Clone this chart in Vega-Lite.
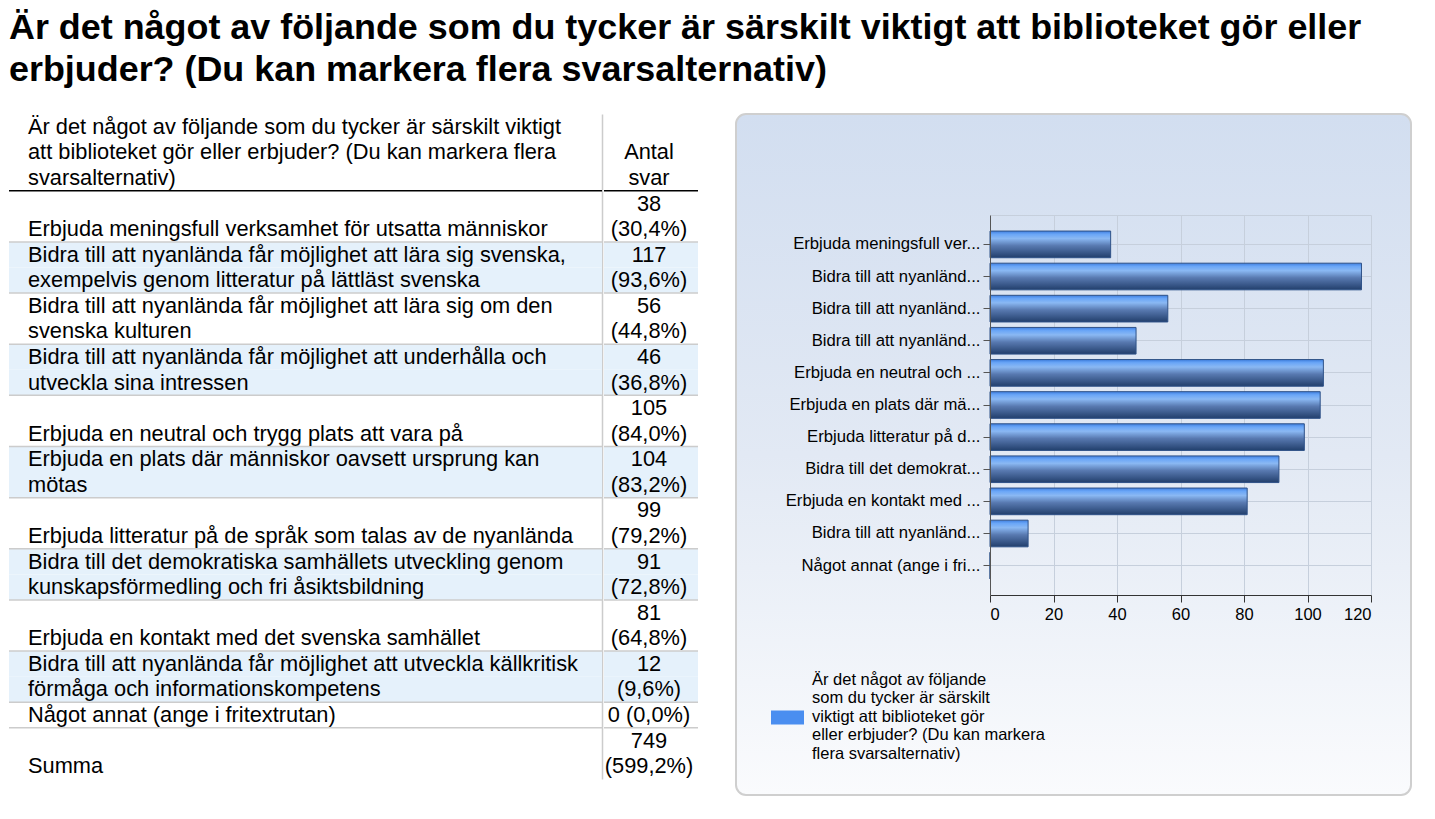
{
  "$schema": "https://vega.github.io/schema/vega-lite/v6.json",
  "padding": {"left": 8, "top": 10, "right": 0, "bottom": 0},
  "background": "white",
  "config": {"font": "Liberation Sans", "view": {"stroke": null}},
  "title": {
    "text": ["Är det något av följande som du tycker är särskilt viktigt att biblioteket gör eller", "erbjuder? (Du kan markera flera svarsalternativ)"],
    "anchor": "start", "frame": "group", "fontSize": 35.9, "fontWeight": "bold", "font": "Liberation Sans",
    "color": "#000000", "lineHeight": 42, "offset": 24
  },
  "datasets": {
    "table": [
      {"row": 0, "line": 1, "q": "Är det något av följande som du tycker är särskilt viktigt", "n": ""},
      {"row": 0, "line": 2, "q": "att biblioteket gör eller erbjuder? (Du kan markera flera", "n": "Antal"},
      {"row": 0, "line": 3, "q": "svarsalternativ)", "n": "svar"},
      {"row": 1, "line": 4, "q": "", "n": "38"},
      {"row": 1, "line": 5, "q": "Erbjuda meningsfull verksamhet för utsatta människor", "n": "(30,4%)"},
      {"row": 2, "line": 6, "q": "Bidra till att nyanlända får möjlighet att lära sig svenska,", "n": "117"},
      {"row": 2, "line": 7, "q": "exempelvis genom litteratur på lättläst svenska", "n": "(93,6%)"},
      {"row": 3, "line": 8, "q": "Bidra till att nyanlända får möjlighet att lära sig om den", "n": "56"},
      {"row": 3, "line": 9, "q": "svenska kulturen", "n": "(44,8%)"},
      {"row": 4, "line": 10, "q": "Bidra till att nyanlända får möjlighet att underhålla och", "n": "46"},
      {"row": 4, "line": 11, "q": "utveckla sina intressen", "n": "(36,8%)"},
      {"row": 5, "line": 12, "q": "", "n": "105"},
      {"row": 5, "line": 13, "q": "Erbjuda en neutral och trygg plats att vara på", "n": "(84,0%)"},
      {"row": 6, "line": 14, "q": "Erbjuda en plats där människor oavsett ursprung kan", "n": "104"},
      {"row": 6, "line": 15, "q": "mötas", "n": "(83,2%)"},
      {"row": 7, "line": 16, "q": "", "n": "99"},
      {"row": 7, "line": 17, "q": "Erbjuda litteratur på de språk som talas av de nyanlända", "n": "(79,2%)"},
      {"row": 8, "line": 18, "q": "Bidra till det demokratiska samhällets utveckling genom", "n": "91"},
      {"row": 8, "line": 19, "q": "kunskapsförmedling och fri åsiktsbildning", "n": "(72,8%)"},
      {"row": 9, "line": 20, "q": "", "n": "81"},
      {"row": 9, "line": 21, "q": "Erbjuda en kontakt med det svenska samhället", "n": "(64,8%)"},
      {"row": 10, "line": 22, "q": "Bidra till att nyanlända får möjlighet att utveckla källkritisk", "n": "12"},
      {"row": 10, "line": 23, "q": "förmåga och informationskompetens", "n": "(9,6%)"},
      {"row": 11, "line": 24, "q": "Något annat (ange i fritextrutan)", "n": "0 (0,0%)"},
      {"row": 12, "line": 25, "q": "", "n": "749"},
      {"row": 12, "line": 26, "q": "Summa", "n": "(599,2%)"}
    ],
    "bars": [
      {"item": "Erbjuda meningsfull verksamhet för utsatta människor", "count": 38},
      {"item": "Bidra till att nyanlända får möjlighet att lära sig svenska, exempelvis genom litteratur på lättläst svenska", "count": 117},
      {"item": "Bidra till att nyanlända får möjlighet att lära sig om den svenska kulturen", "count": 56},
      {"item": "Bidra till att nyanlända får möjlighet att underhålla och utveckla sina intressen", "count": 46},
      {"item": "Erbjuda en neutral och trygg plats att vara på", "count": 105},
      {"item": "Erbjuda en plats där människor oavsett ursprung kan mötas", "count": 104},
      {"item": "Erbjuda litteratur på de språk som talas av de nyanlända", "count": 99},
      {"item": "Bidra till det demokratiska samhällets utveckling genom kunskapsförmedling och fri åsiktsbildning", "count": 91},
      {"item": "Erbjuda en kontakt med det svenska samhället", "count": 81},
      {"item": "Bidra till att nyanlända får möjlighet att utveckla källkritisk förmåga och informationskompetens", "count": 12},
      {"item": "Något annat (ange i fritextrutan)", "count": 0}
    ]
  },
  "spacing": 36,
  "hconcat": [
    {
      "spacing": 0,
      "hconcat": [
        {
          "width": 593, "height": 665,
          "data": {"name": "table"},
          "encoding": {"y": {"field": "line", "type": "ordinal", "scale": {"type": "band", "paddingInner": 0, "paddingOuter": 0},
            "axis": {"orient": "right", "domain": true, "domainColor": "#cccccc", "domainWidth": 1.5, "labels": false, "ticks": false, "grid": false, "title": null, "zindex": 0}}},
          "layer": [
            {"transform": [{"filter": "datum.row > 0 && datum.row < 11 && datum.row % 2 == 0"}], "mark": {"type": "rect", "fill": "#e5f1fb"}},
            {"transform": [{"joinaggregate": [{"op": "max", "field": "line", "as": "last"}], "groupby": ["row"]}, {"filter": "datum.line == datum.last && datum.row > 0 && datum.row < 12"}],
             "mark": {"type": "rule", "color": "#cccccc", "strokeWidth": 1.5},
             "encoding": {"y": {"field": "line", "type": "ordinal", "bandPosition": 1}}},
            {"transform": [{"filter": "datum.line == 3"}],
             "mark": {"type": "rule", "color": "#000000", "strokeWidth": 1.5},
             "encoding": {"y": {"field": "line", "type": "ordinal", "bandPosition": 1}}},
            {"mark": {"type": "text", "align": "left", "baseline": "middle", "dx": 19, "fontSize": 21.8, "color": "#000000"},
             "encoding": {"x": {"datum": 0, "type": "quantitative", "scale": {"domain": [0, 1]}, "axis": null}, "text": {"field": "q"}}}
          ]
        },
        {
          "width": 94, "height": 665,
          "data": {"name": "table"},
          "encoding": {"y": {"field": "line", "type": "ordinal", "scale": {"type": "band", "paddingInner": 0, "paddingOuter": 0}, "axis": null}},
          "layer": [
            {"transform": [{"filter": "datum.row > 0 && datum.row < 11 && datum.row % 2 == 0"}], "mark": {"type": "rect", "fill": "#e5f1fb"}},
            {"transform": [{"joinaggregate": [{"op": "max", "field": "line", "as": "last"}], "groupby": ["row"]}, {"filter": "datum.line == datum.last && datum.row > 0 && datum.row < 12"}],
             "mark": {"type": "rule", "color": "#cccccc", "strokeWidth": 1.5},
             "encoding": {"y": {"field": "line", "type": "ordinal", "bandPosition": 1}}},
            {"transform": [{"filter": "datum.line == 3"}],
             "mark": {"type": "rule", "color": "#000000", "strokeWidth": 1.5},
             "encoding": {"y": {"field": "line", "type": "ordinal", "bandPosition": 1}}},
            {"mark": {"type": "text", "align": "center", "baseline": "middle", "dx": -2, "fontSize": 21.8, "color": "#000000"},
             "encoding": {"text": {"field": "n"}}}
          ]
        }
      ]
    },
    {
      "width": 675, "height": 681,
      "view": {
        "fill": {"gradient": "linear", "x1": 0, "y1": 0, "x2": 0, "y2": 1,
          "stops": [{"offset": 0, "color": "#d2def0"}, {"offset": 0.5, "color": "#e2e9f4"}, {"offset": 1, "color": "#fafbfd"}]},
        "stroke": "#cfcfcf", "strokeWidth": 2, "cornerRadius": 10
      },
      "data": {"name": "bars"},
      "resolve": {"axis": {"x": "independent", "y": "independent"}},
      "layer": [
        {
          "mark": {"type": "point", "filled": true, "opacity": 0, "size": 0},
          "encoding": {
            "x": {"field": "count", "type": "quantitative", "scale": {"domain": [0, 120], "range": [254, 635], "nice": false},
              "axis": {"orient": "bottom", "offset": -200, "title": null, "values": [20, 40, 60, 80, 100, 120], "labels": false, "domain": false, "grid": false, "tickSize": -380, "tickColor": "#c6cfdc", "tickWidth": 1, "zindex": 0}},
            "y": {"field": "item", "type": "nominal", "sort": null, "scale": {"range": [101, 481], "paddingInner": 0.17, "paddingOuter": 0.5},
              "axis": {"orient": "left", "offset": -254, "title": null, "labels": false, "domain": false, "grid": false, "tickSize": -381, "tickColor": "#c6cfdc", "tickWidth": 1, "zindex": 0}},
            "color": {"datum": "Är det något av följande som du tycker är särskilt viktigt att biblioteket gör eller erbjuder? (Du kan markera flera svarsalternativ)", "type": "nominal",
              "scale": {"range": ["#4a8ef0"]},
              "legend": {"orient": "none", "legendX": 762, "legendY": 549, "title": null, "padding": 0,
                "symbolType": "M-1,1.876L1,1.876L1,2.724L-1,2.724Z", "symbolSize": 1089, "symbolFillColor": "#4a8ef0", "symbolStrokeWidth": 0, "symbolOpacity": 1,
                "labelFontSize": 16.5, "labelColor": "#000000", "labelOffset": 8, "labelLimit": 400,
                "labelExpr": "['Är det något av följande', 'som du tycker är särskilt', 'viktigt att biblioteket gör', 'eller erbjuder? (Du kan markera', 'flera svarsalternativ)']"}}
          }
        },
        {
          "mark": {"type": "point", "opacity": 0, "size": 0},
          "encoding": {
            "x": {"field": "count", "type": "quantitative", "scale": {"domain": [0, 120], "range": [254, 635], "nice": false},
              "axis": {"orient": "top", "offset": -101, "title": null, "labels": false, "ticks": false, "grid": false, "domain": true, "domainColor": "#c6cfdc", "domainWidth": 1, "zindex": 0}},
            "y": {"field": "item", "type": "nominal", "sort": null, "axis": null}
          }
        },
        {
          "mark": {"type": "bar", "stroke": "#2f5288", "strokeWidth": 1,
            "fill": {"gradient": "linear", "x1": 0, "y1": 0, "x2": 0, "y2": 1,
              "stops": [{"offset": 0, "color": "#3f7fe0"}, {"offset": 0.12, "color": "#6aa6f7"}, {"offset": 0.28, "color": "#8ab8f3"}, {"offset": 0.55, "color": "#5879b0"}, {"offset": 1, "color": "#223f6c"}]}},
          "encoding": {
            "x": {"field": "count", "type": "quantitative", "scale": {"domain": [0, 120], "range": [254, 635], "nice": false},
              "axis": {"orient": "bottom", "offset": -200, "title": null, "values": [0, 20, 40, 60, 80, 100, 120], "grid": false, "domain": true, "domainColor": "#333333", "tickColor": "#333333", "tickSize": 7, "labelFontSize": 16.5, "labelColor": "#000000", "labelPadding": 4, "zindex": 1}},
            "y": {"field": "item", "type": "nominal", "sort": null,
              "axis": {"orient": "left", "offset": -254, "title": null, "grid": false, "domainColor": "#555555", "tickColor": "#555555", "tickSize": 7, "labelFontSize": 16.7, "labelColor": "#000000", "labelPadding": 3, "labelLimit": 300, "labelExpr": "substring(datum.label, 0, 23) + '...'", "zindex": 1}}
          }
        }
      ]
    }
  ]
}
